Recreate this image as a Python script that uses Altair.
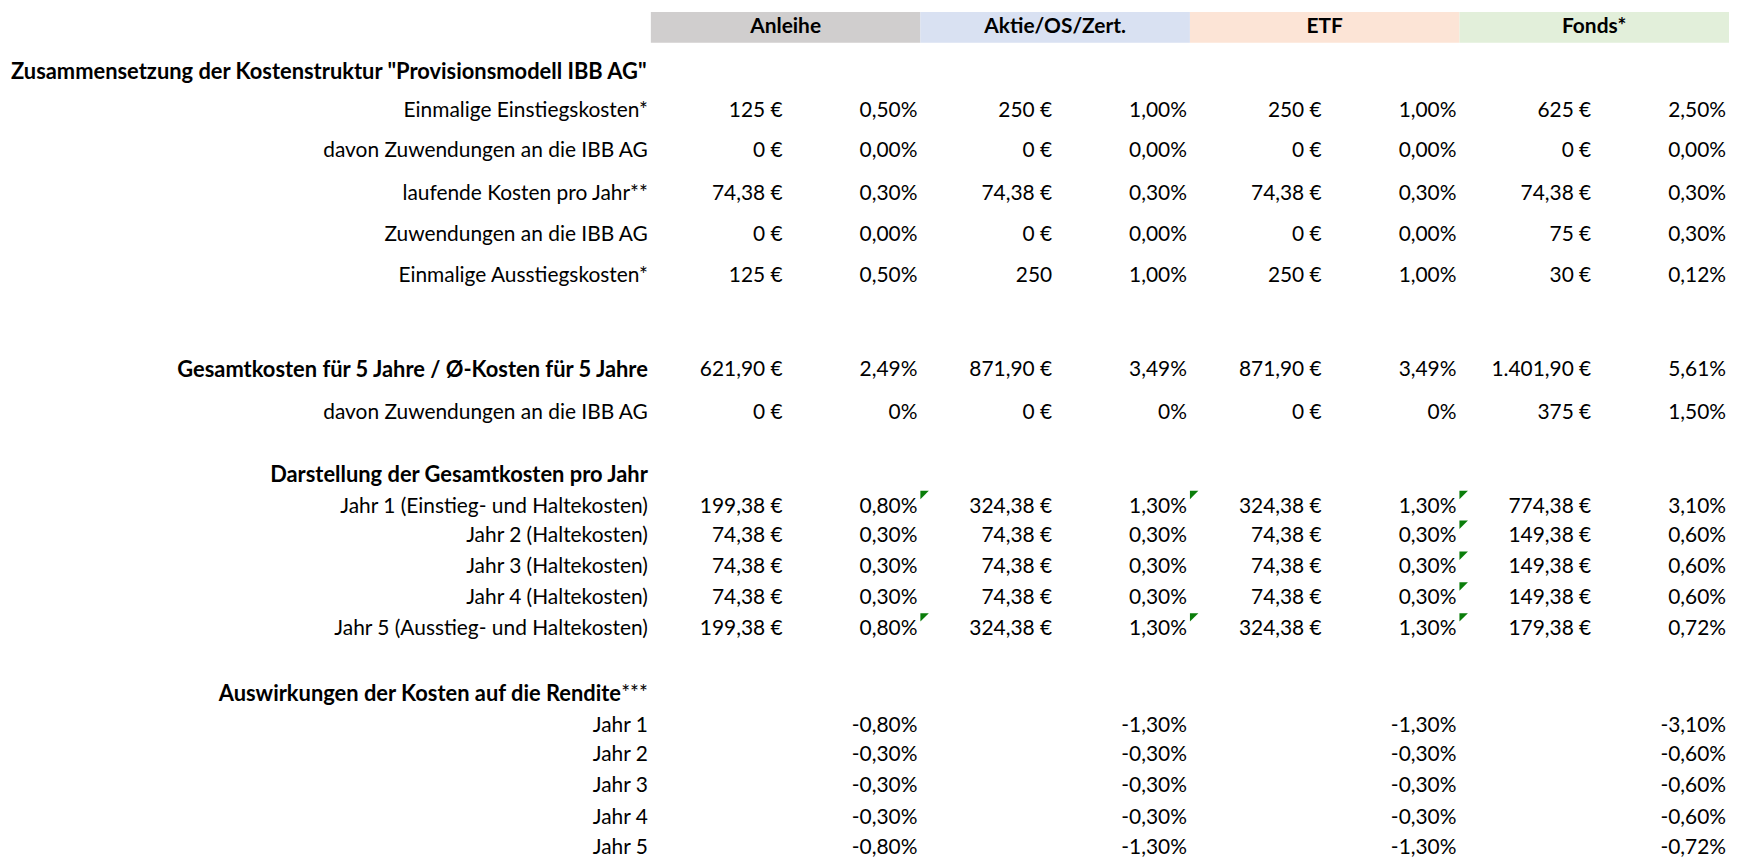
import altair as alt
import pandas as pd

# ---------------- data ----------------
PRODUCTS = ["Anleihe", "Aktie/OS/Zert.", "ETF", "Fonds*"]
PRODUCT_COLORS = ["#D0CECE", "#D9E1F2", "#FCE4D6", "#E2EFDA"]

TITLE = 'Zusammensetzung der Kostenstruktur "Provisionsmodell IBB AG"'

ROW_KEYS = ["einstieg", "einstieg_zuw", "laufend", "laufend_zuw", "ausstieg",
            "gesamt", "gesamt_zuw", "darst", "j1", "j2", "j3", "j4", "j5",
            "ausw", "r1", "r2", "r3", "r4", "r5"]
ROW_LABELS = ["Einmalige Einstiegskosten*", "davon Zuwendungen an die IBB AG",
              "laufende Kosten pro Jahr**", "Zuwendungen an die IBB AG",
              "Einmalige Ausstiegskosten*",
              "Gesamtkosten für 5 Jahre / Ø-Kosten für 5 Jahre",
              "davon Zuwendungen an die IBB AG",
              "Darstellung der Gesamtkosten pro Jahr",
              "Jahr 1 (Einstieg- und Haltekosten)", "Jahr 2 (Haltekosten)",
              "Jahr 3 (Haltekosten)", "Jahr 4 (Haltekosten)",
              "Jahr 5 (Ausstieg- und Haltekosten)",
              "Auswirkungen der Kosten auf die Rendite",
              "Jahr 1\u00a0", "Jahr 2", "Jahr 3", "Jahr 4", "Jahr 5"]
ROW_BOLD = [False, False, False, False, False, True, False, True,
            False, False, False, False, False, True,
            False, False, False, False, False]
ROW_SUFFIX = {"ausw": "***"}

ANLEIHE_EUR = ["125 €", "0 €", "74,38 €", "0 €", "125 €", "621,90 €", "0 €", "",
               "199,38 €", "74,38 €", "74,38 €", "74,38 €", "199,38 €",
               "", "", "", "", "", ""]
ANLEIHE_PCT = ["0,50%", "0,00%", "0,30%", "0,00%", "0,50%", "2,49%", "0%", "",
               "0,80%", "0,30%", "0,30%", "0,30%", "0,80%",
               "", "-0,80%", "-0,30%", "-0,30%", "-0,30%", "-0,80%"]
AKTIE_EUR = ["250 €", "0 €", "74,38 €", "0 €", "250", "871,90 €", "0 €", "",
             "324,38 €", "74,38 €", "74,38 €", "74,38 €", "324,38 €",
             "", "", "", "", "", ""]
AKTIE_PCT = ["1,00%", "0,00%", "0,30%", "0,00%", "1,00%", "3,49%", "0%", "",
             "1,30%", "0,30%", "0,30%", "0,30%", "1,30%",
             "", "-1,30%", "-0,30%", "-0,30%", "-0,30%", "-1,30%"]
ETF_EUR = ["250 €", "0 €", "74,38 €", "0 €", "250 €", "871,90 €", "0 €", "",
           "324,38 €", "74,38 €", "74,38 €", "74,38 €", "324,38 €",
           "", "", "", "", "", ""]
ETF_PCT = ["1,00%", "0,00%", "0,30%", "0,00%", "1,00%", "3,49%", "0%", "",
           "1,30%", "0,30%", "0,30%", "0,30%", "1,30%",
           "", "-1,30%", "-0,30%", "-0,30%", "-0,30%", "-1,30%"]
FONDS_EUR = ["625 €", "0 €", "74,38 €", "75 €", "30 €", "1.401,90 €", "375 €", "",
             "774,38 €", "149,38 €", "149,38 €", "149,38 €", "179,38 €",
             "", "", "", "", "", ""]
FONDS_PCT = ["2,50%", "0,00%", "0,30%", "0,30%", "0,12%", "5,61%", "1,50%", "",
             "3,10%", "0,60%", "0,60%", "0,60%", "0,72%",
             "", "-3,10%", "-0,60%", "-0,60%", "-0,60%", "-0,72%"]

# cells flagged with the green spreadsheet indicator: (row, product index of the € cell)
FLAGGED_CELLS = [("j1", 1), ("j1", 2), ("j1", 3), ("j2", 3), ("j3", 3),
                 ("j4", 3), ("j5", 1), ("j5", 2), ("j5", 3)]

# ---------------- layout (sheet geometry) ----------------
ROW_Y = [110, 150, 193, 234, 275, 370, 413, 475, 507, 537, 568, 599, 630,
         695, 727, 757, 788, 820, 850]
TITLE_Y = 70
HEADER_TOP, HEADER_BOTTOM = 10, 41
X_DOMAIN = [-4.77, 8.0]      # sub-column units; 0 = start of first product column
Y_DOMAIN = [8, 859]
W, H = 1729, 851
FONT = "Lato"
FS = 21            # regular cells and product headers
FS_BOLD = 22       # bold row headings
SUFFIX_W = 27      # width of the non-bold "***"

value_cols = [ANLEIHE_EUR, ANLEIHE_PCT, AKTIE_EUR, AKTIE_PCT,
              ETF_EUR, ETF_PCT, FONDS_EUR, FONDS_PCT]

# ---------------- tables ----------------
bands = pd.DataFrame({
    "product": PRODUCTS,
    "x0": [2 * i for i in range(4)],
    "x1": [2 * i + 2 for i in range(4)],
    "xc": [2 * i + 1 for i in range(4)],
    "y0": HEADER_TOP, "y1": HEADER_BOTTOM,
    "color": PRODUCT_COLORS,
})

lab = pd.DataFrame({"key": ROW_KEYS, "label": ROW_LABELS, "bold": ROW_BOLD, "y": ROW_Y})
lab["x"] = 0
lab_norm = lab[~lab.bold]
lab_bold = lab[lab.bold & ~lab.key.isin(ROW_SUFFIX.keys())]
lab_bold_suf = lab[lab.key.isin(ROW_SUFFIX.keys())].copy()
lab_suf = lab_bold_suf.copy()
lab_suf["label"] = [ROW_SUFFIX[k] for k in lab_suf.key]

recs = []
for c, col in enumerate(value_cols):
    for r, v in enumerate(col):
        if v:
            recs.append({"x": c + 1, "y": ROW_Y[r], "text": v})
vals = pd.DataFrame(recs)

ykey = dict(zip(ROW_KEYS, ROW_Y))
flags = pd.DataFrame({"x": [2 * p for _, p in FLAGGED_CELLS],
                      "y": [ykey[k] - 16 for k, _ in FLAGGED_CELLS]})

title_df = pd.DataFrame({"x": [X_DOMAIN[0]], "y": [TITLE_Y], "text": [TITLE]})

xs = alt.Scale(domain=X_DOMAIN, nice=False, zero=False)
ys = alt.Scale(domain=Y_DOMAIN, nice=False, zero=False, reverse=True)


def X(f="x"):
    return alt.X(f"{f}:Q", scale=xs, axis=None)


def Y(f="y"):
    return alt.Y(f"{f}:Q", scale=ys, axis=None)


def txt(df, bold=False, align="right", dx=-3, size=FS):
    kw = dict(font=FONT, fontSize=size, color="black", baseline="middle", align=align, dx=dx)
    if bold:
        kw["fontWeight"] = "bold"
    return alt.Chart(df).mark_text(**kw)


band_layer = alt.Chart(bands).mark_rect().encode(
    x=X("x0"), x2="x1", y=Y("y0"), y2="y1",
    color=alt.Color("color:N", scale=None))

header_layer = txt(bands, bold=True, align="center", dx=0).encode(
    x=X("xc"), y=alt.Y("yc:Q", scale=ys, axis=None), text="product:N"
).transform_calculate(yc="(datum.y0 + datum.y1) / 2")

title_layer = txt(title_df, bold=True, align="left", dx=3, size=FS_BOLD).encode(
    x=X(), y=Y(), text="text:N")
lab_layer = txt(lab_norm).encode(x=X(), y=Y(), text="label:N")
labb_layer = txt(lab_bold, bold=True, size=FS_BOLD).encode(x=X(), y=Y(), text="label:N")
labbs_layer = txt(lab_bold_suf, bold=True, dx=-3 - SUFFIX_W, size=FS_BOLD).encode(
    x=X(), y=Y(), text="label:N")
suf_layer = txt(lab_suf).encode(x=X(), y=Y(), text="label:N")
val_layer = txt(vals).encode(x=X(), y=Y(), text="text:N")

flag_layer = alt.Chart(flags).mark_point(
    shape="M0,0 L2,0 L0,2 Z", filled=True, opacity=1, color="#0a7d0a", size=72, strokeWidth=0
).encode(x=X(), y=Y())

chart = alt.layer(
    band_layer, header_layer, title_layer, lab_layer, labb_layer, labbs_layer,
    suf_layer, val_layer, flag_layer
).properties(
    width=W, height=H, padding=0, autosize=alt.AutoSizeParams(type="none")
).configure_view(stroke=None)

chart.save("out.html", embed_options={"renderer": "svg", "actions": False})
